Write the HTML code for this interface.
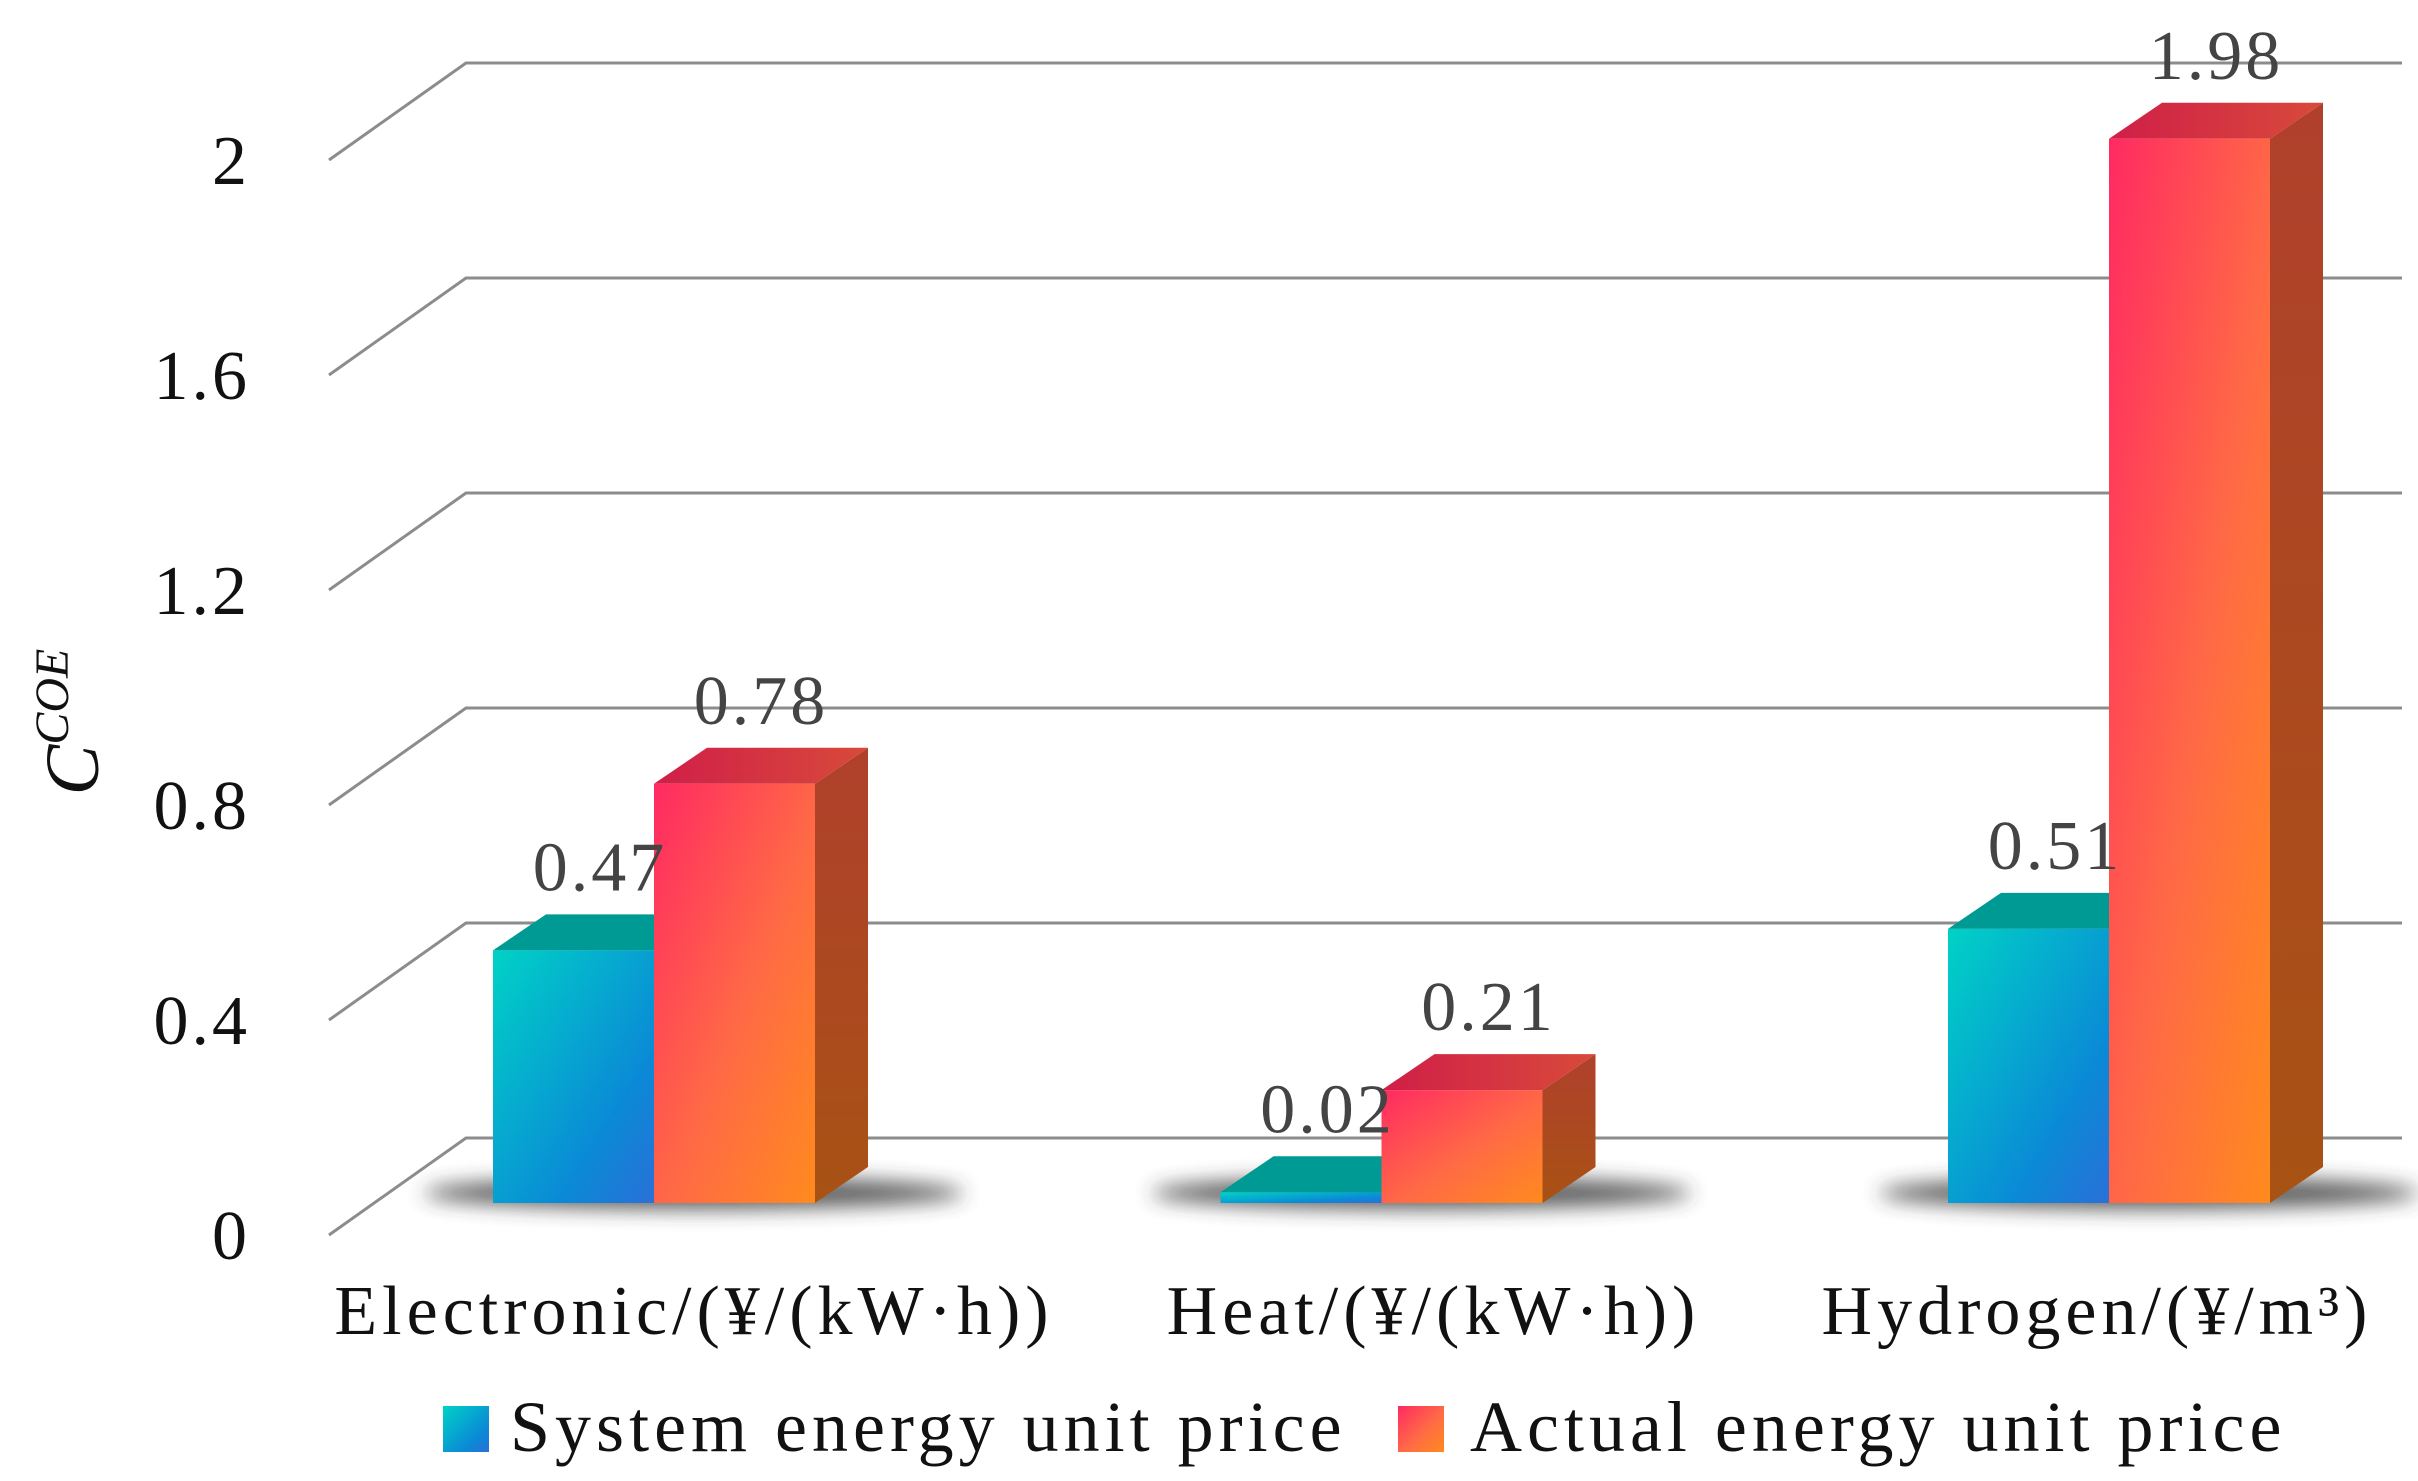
<!DOCTYPE html>
<html><head><meta charset="utf-8"><style>
html,body{margin:0;padding:0;background:#fff;}
svg{display:block;}
text{font-family:"Liberation Serif",serif;}
</style></head><body>
<svg id="chart" width="2418" height="1481" viewBox="0 0 2418 1481" xmlns="http://www.w3.org/2000/svg">
<defs>
<linearGradient id="gCyan" x1="0" y1="0" x2="1" y2="1"><stop offset="0" stop-color="#00d2c6"/><stop offset="0.7" stop-color="#0a8ad6"/><stop offset="1" stop-color="#2a70d8"/></linearGradient>
<linearGradient id="gRed" x1="0" y1="0" x2="1" y2="1"><stop offset="0" stop-color="#ff2a62"/><stop offset="0.55" stop-color="#ff6a45"/><stop offset="1" stop-color="#ff8a1e"/></linearGradient>
<linearGradient id="gSide" x1="0" y1="0" x2="0" y2="1"><stop offset="0" stop-color="#b0402c"/><stop offset="1" stop-color="#a85214"/></linearGradient>
<linearGradient id="gTopR" x1="0" y1="0" x2="1" y2="0"><stop offset="0" stop-color="#d01e48"/><stop offset="1" stop-color="#d84a3a"/></linearGradient>
<filter id="blur" x="-20%" y="-200%" width="140%" height="500%"><feGaussianBlur stdDeviation="10"/></filter>
</defs>
<g id="grid"></g>
<g id="shadows"></g>
<g id="bars"></g>
<g id="labels"></g>
<text transform="translate(98,722) rotate(-90)" text-anchor="middle" font-size="76" font-style="italic" fill="#111">C<tspan font-size="48" dy="-30">COE</tspan></text>
<rect x="443" y="1406" width="46" height="46" fill="url(#gCyan)"/>
<text x="510" y="1451" font-size="72" letter-spacing="5" fill="#111">System energy unit price</text>
<rect x="1398" y="1406" width="46" height="46" fill="url(#gRed)"/>
<text x="1470" y="1451" font-size="72" letter-spacing="5" fill="#111">Actual energy unit price</text>
</svg>
<script>
const categories = ["Electronic/(¥/(kW·h))", "Heat/(¥/(kW·h))", "Hydrogen/(¥/m³)"];
const systemPrice = [0.47, 0.02, 0.51];
const actualPrice = [0.78, 0.21, 1.98];
const tickValues = [0, 0.4, 0.8, 1.2, 1.6, 2];
const tickLabels = ["0", "0.4", "0.8", "1.2", "1.6", "2"];

const NS = "http://www.w3.org/2000/svg";
const labelShift = [0, 12, -52];
const yBack = v => 1138 - v * 537.5;
const yFront = v => 1203 - v * 537.5;
const groupX = i => 493 + i * 727.5;
const BW = 161, DX = 53, DY = 36;
function mk(tag, attrs, parent) {
  const e = document.createElementNS(NS, tag);
  for (const k in attrs) e.setAttribute(k, attrs[k]);
  parent.appendChild(e);
  return e;
}
const grid = document.getElementById('grid');
tickValues.forEach((v, i) => {
  const y = yBack(v);
  const p = mk('polyline', {points: `329,${y + 97} 466,${y} 2402,${y}`, fill: 'none', stroke: '#8c8c8c', 'stroke-width': 3}, grid);
  
  
  const t = mk('text', {x: 250, y: y + 97 + 24, 'text-anchor': 'end', 'font-size': 70, 'letter-spacing': 3, fill: '#111'}, grid);
  t.textContent = tickLabels[i];
  
  
});
const shadows = document.getElementById('shadows');
const bars = document.getElementById('bars');
const labels = document.getElementById('labels');
function bar(x, v, front, top, side, name, label) {
  const y0 = yFront(0), y1 = yFront(v);
  const g = mk('g', {}, bars);
  
  
  mk('polygon', {points: `${x + BW},${y0} ${x + BW + DX},${y0 - DY} ${x + BW + DX},${y1 - DY} ${x + BW},${y1}`, fill: side}, g);
  mk('polygon', {points: `${x},${y1} ${x + DX},${y1 - DY} ${x + BW + DX},${y1 - DY} ${x + BW},${y1}`, fill: top}, g);
  mk('rect', {x: x, y: y1, width: BW, height: y0 - y1, fill: front}, g);
  const t = mk('text', {x: x + BW / 2 + DX / 2, y: y1 - DY - 24, 'text-anchor': 'middle', 'font-size': 70, 'letter-spacing': 3, fill: '#444'}, labels);
  t.textContent = label;
  
  
}
categories.forEach((c, i) => {
  const x = groupX(i);
  const s = mk('ellipse', {cx: x + BW + 40, cy: yFront(0) - 10, rx: 270, ry: 16, fill: '#333', opacity: 0.8, filter: 'url(#blur)'}, shadows);
  
  
  bar(x, systemPrice[i], 'url(#gCyan)', '#009a94', '#00707a', 'bar-system-' + i, systemPrice[i].toFixed(2));
  bar(x + BW, actualPrice[i], 'url(#gRed)', 'url(#gTopR)', 'url(#gSide)', 'bar-actual-' + i, actualPrice[i].toFixed(2));
  const t = mk('text', {x: x + BW + 40 + labelShift[i], y: 1334, 'text-anchor': 'middle', 'font-size': 70, 'letter-spacing': 5, fill: '#111'}, labels);
  t.textContent = c;
  
  
});
</script>
</body></html>
